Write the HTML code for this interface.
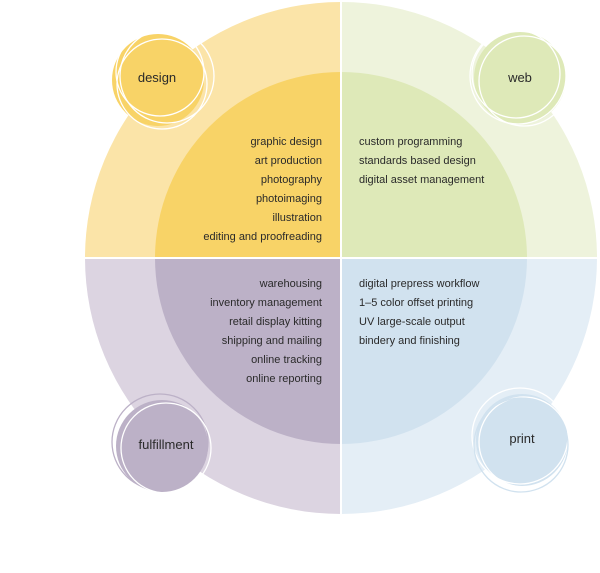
<!DOCTYPE html>
<html><head><meta charset="utf-8"><style>
html,body{margin:0;padding:0;background:#fff;}
svg text{font-family:"Liberation Sans",sans-serif;font-size:11px;fill:#2a2a2a;}
</style></head><body>
<svg width="600" height="568" viewBox="0 0 600 568" xmlns="http://www.w3.org/2000/svg">
<defs>
<clipPath id="tl"><rect x="0" y="0" width="341" height="258"/></clipPath>
<clipPath id="tr"><rect x="341" y="0" width="259" height="258"/></clipPath>
<clipPath id="bl"><rect x="0" y="258" width="341" height="310"/></clipPath>
<clipPath id="br"><rect x="341" y="258" width="259" height="310"/></clipPath>
</defs>
<g clip-path="url(#tl)"><circle cx="341" cy="258" r="256" fill="#fbe4a8"/><circle cx="341" cy="258" r="186" fill="#f8d367"/></g>
<g clip-path="url(#tr)"><circle cx="341" cy="258" r="256" fill="#eef3dc"/><circle cx="341" cy="258" r="186" fill="#dee9b8"/></g>
<g clip-path="url(#bl)"><circle cx="341" cy="258" r="256" fill="#dcd4e1"/><circle cx="341" cy="258" r="186" fill="#bcb1c7"/></g>
<g clip-path="url(#br)"><circle cx="341" cy="258" r="256" fill="#e4eef6"/><circle cx="341" cy="258" r="186" fill="#d1e2ef"/></g>
<line x1="341" y1="0" x2="341" y2="520" stroke="#fff" stroke-width="2"/>
<line x1="80" y1="258" x2="600" y2="258" stroke="#fff" stroke-width="2"/>

<g fill="none" stroke="#fff" stroke-width="1.3">
<circle cx="158" cy="80" r="46" fill="#f8d367" stroke="none"/>
<circle cx="167" cy="76" r="47"/><circle cx="162" cy="84" r="45"/><circle cx="160" cy="72" r="44"/>
<circle cx="520" cy="78" r="46" fill="#dee9b8" stroke="none"/>
<circle cx="518" cy="76" r="48"/><circle cx="524" cy="81" r="45"/><circle cx="516" cy="74" r="44"/>
<circle cx="162" cy="446" r="46" fill="#bcb1c7" stroke="none"/>
<circle cx="160" cy="442" r="48" stroke="#bcb1c7"/><circle cx="166" cy="448" r="45" stroke="#fff"/>
<circle cx="522" cy="440" r="46" fill="#d1e2ef" stroke="none"/>
<circle cx="520" cy="436" r="48"/><circle cx="524" cy="442" r="45"/><circle cx="521" cy="445" r="47" stroke="#d1e2ef"/>
</g>
<text x="157" y="82" text-anchor="middle" style="font-size:13px">design</text>
<text x="520" y="82" text-anchor="middle" style="font-size:13px">web</text>
<text x="166" y="449" text-anchor="middle" style="font-size:13px">fulfillment</text>
<text x="522" y="443" text-anchor="middle" style="font-size:13px">print</text>

<g text-anchor="end">
<text x="322" y="145">graphic design</text><text x="322" y="164">art production</text><text x="322" y="183">photography</text><text x="322" y="202">photoimaging</text><text x="322" y="221">illustration</text><text x="322" y="240">editing and proofreading</text>
<text x="322" y="287">warehousing</text><text x="322" y="306">inventory management</text><text x="322" y="325">retail display kitting</text><text x="322" y="344">shipping and mailing</text><text x="322" y="363">online tracking</text><text x="322" y="382">online reporting</text>
</g>
<g>
<text x="359" y="145">custom programming</text><text x="359" y="164">standards based design</text><text x="359" y="183">digital asset management</text>
<text x="359" y="287">digital prepress workflow</text><text x="359" y="306">1–5 color offset printing</text><text x="359" y="325">UV large-scale output</text><text x="359" y="344">bindery and finishing</text>
</g>
</svg>
</body></html>
